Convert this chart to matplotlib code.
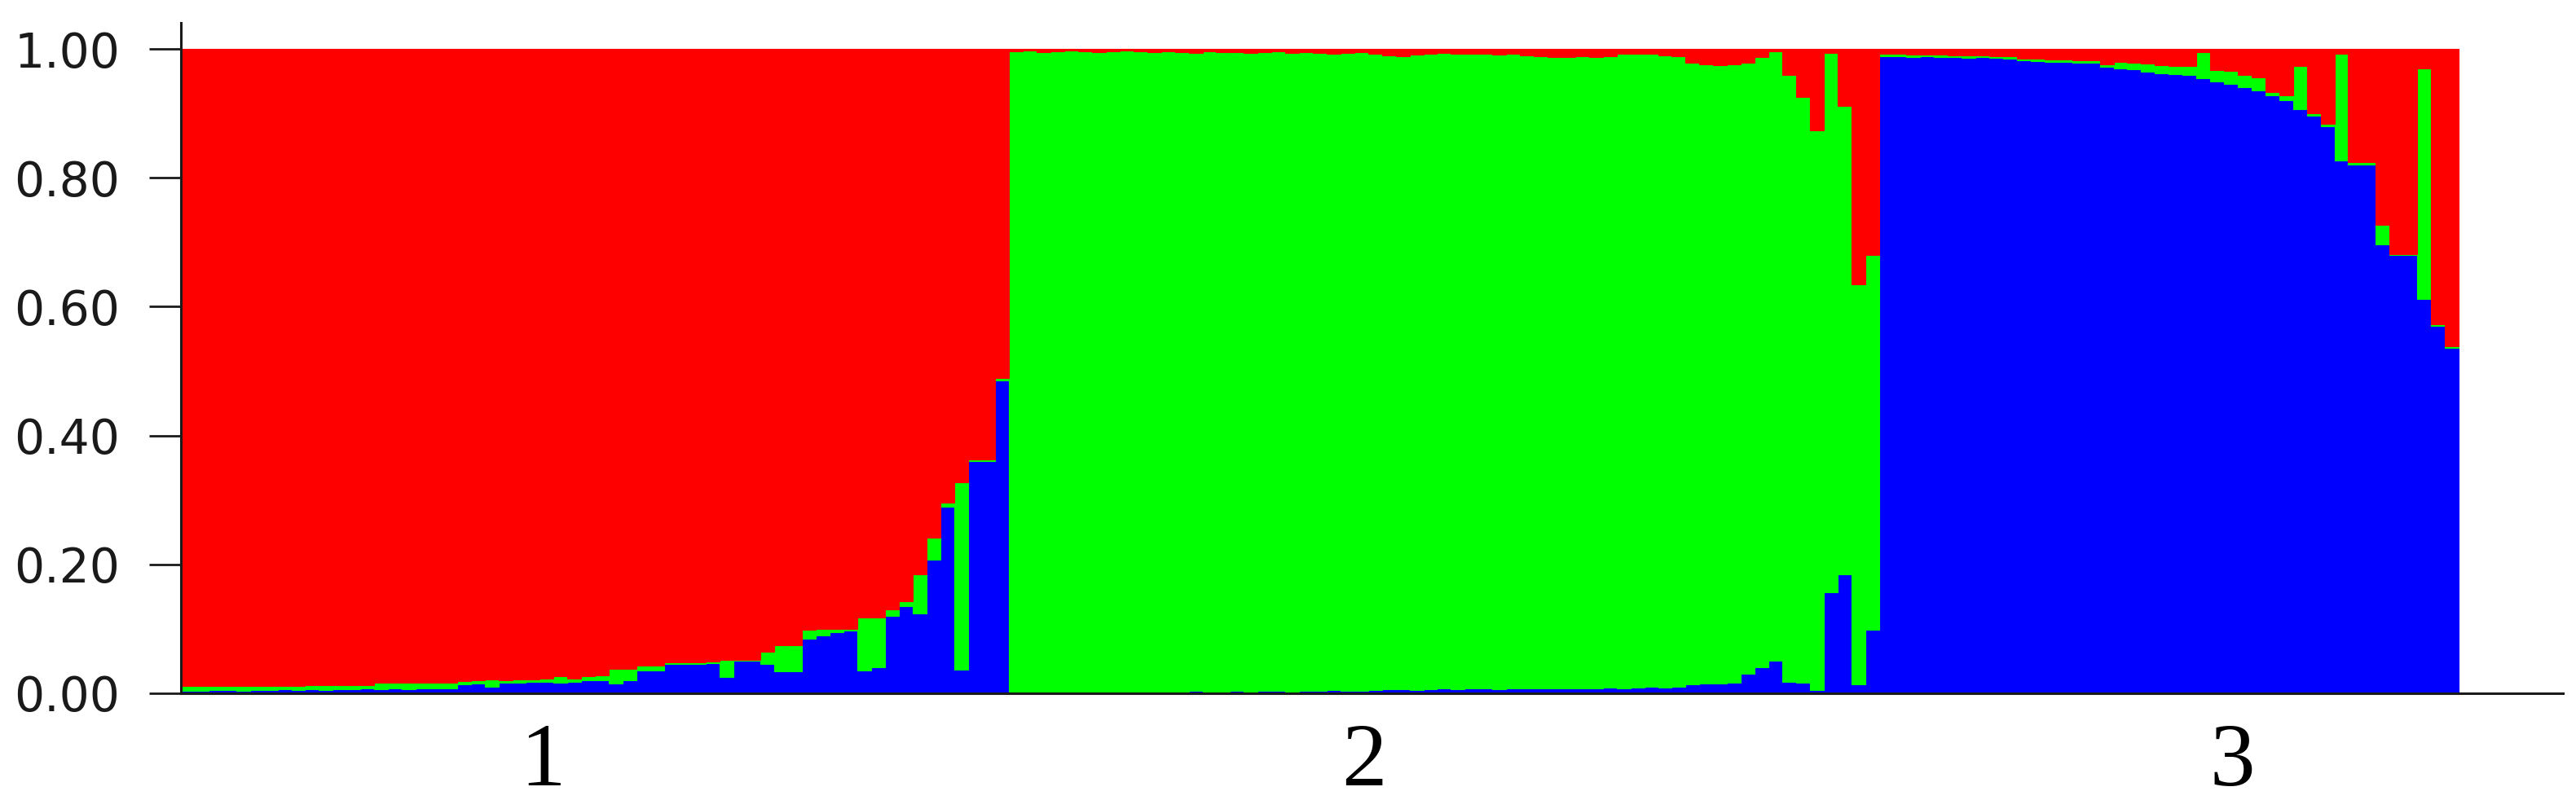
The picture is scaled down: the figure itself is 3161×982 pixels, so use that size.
import numpy as np
import matplotlib
matplotlib.use("Agg")
import matplotlib.pyplot as plt

# --- membership coefficients (Q) per individual ---
# group 1: red dominant, blue + green read, red = rest
g1_blue = [0.004, 0.004, 0.005, 0.005, 0.004, 0.005, 0.005, 0.006, 0.005, 0.006,
           0.005, 0.006, 0.006, 0.007, 0.006, 0.007, 0.006, 0.007, 0.008, 0.008,
           0.014, 0.015, 0.010, 0.016, 0.017, 0.018, 0.018, 0.016, 0.018, 0.020,
           0.020, 0.015, 0.020, 0.035, 0.035, 0.045, 0.045, 0.046, 0.047, 0.025,
           0.050, 0.050, 0.045, 0.034, 0.034, 0.085, 0.090, 0.095, 0.097, 0.035,
           0.040, 0.120, 0.135, 0.124, 0.207, 0.290, 0.037, 0.360, 0.360, 0.485]
g1_green = [0.008, 0.008, 0.007, 0.006, 0.008, 0.007, 0.007, 0.006, 0.007, 0.007,
            0.008, 0.007, 0.007, 0.006, 0.010, 0.010, 0.011, 0.010, 0.009, 0.008,
            0.005, 0.005, 0.012, 0.004, 0.004, 0.004, 0.005, 0.010, 0.005, 0.006,
            0.008, 0.023, 0.018, 0.008, 0.008, 0.003, 0.003, 0.002, 0.002, 0.027,
            0.002, 0.002, 0.020, 0.040, 0.040, 0.014, 0.010, 0.005, 0.003, 0.082,
            0.077, 0.010, 0.008, 0.060, 0.035, 0.006, 0.290, 0.003, 0.003, 0.004]

# group 2: green dominant, blue + red read, green = rest
g2_blue = [0.002, 0.003, 0.002, 0.003, 0.002, 0.003, 0.003, 0.002, 0.003, 0.003,
           0.002, 0.003, 0.003, 0.004, 0.003, 0.003, 0.004, 0.003, 0.004, 0.004,
           0.003, 0.004, 0.004, 0.005, 0.004, 0.004, 0.005,
           0.006, 0.006, 0.005, 0.006, 0.007, 0.006, 0.007, 0.007, 0.006, 0.007,
           0.008, 0.007, 0.008, 0.008, 0.007, 0.008, 0.009, 0.008, 0.009, 0.010,
           0.009, 0.010,
           0.014, 0.015, 0.015, 0.016, 0.030, 0.040, 0.050, 0.018, 0.016, 0.005,
           0.157, 0.185, 0.014, 0.098]
g2_red = [0.004, 0.003, 0.005, 0.004, 0.003, 0.004, 0.005, 0.004, 0.003, 0.004,
          0.005, 0.004, 0.005, 0.006, 0.004, 0.005, 0.005, 0.006, 0.005, 0.004,
          0.006, 0.005, 0.006, 0.007, 0.006, 0.005, 0.007, 0.010, 0.012, 0.009,
          0.008, 0.006, 0.007, 0.008, 0.007, 0.009, 0.008, 0.010, 0.011,
          0.013, 0.013, 0.012, 0.013, 0.012,
          0.008, 0.007, 0.008, 0.010, 0.012,
          0.022, 0.024, 0.025, 0.024, 0.022,
          0.013, 0.004, 0.040, 0.075, 0.126, 0.006, 0.088, 0.365, 0.320]

# group 3: blue dominant, blue + green read, red = rest
g3_blue = [0.988, 0.988, 0.987, 0.988, 0.987, 0.987, 0.986, 0.987, 0.986, 0.985,
           0.982, 0.981, 0.980, 0.980, 0.979, 0.978,
           0.972, 0.970, 0.968, 0.964, 0.962, 0.961, 0.960,
           0.955, 0.950, 0.946, 0.941, 0.936, 0.928, 0.920, 0.906, 0.896, 0.880,
           0.827, 0.821, 0.821, 0.697, 0.680, 0.680, 0.612, 0.570, 0.536]
g3_green = [0.004, 0.005, 0.004, 0.003, 0.004, 0.003, 0.004, 0.003, 0.003, 0.004,
            0.003, 0.004, 0.003, 0.004, 0.003, 0.004,
            0.004, 0.010, 0.010, 0.013, 0.013, 0.012, 0.013,
            0.040, 0.017, 0.020, 0.018, 0.020, 0.005, 0.008, 0.067, 0.004, 0.004,
            0.166, 0.003, 0.003, 0.030, 0.002, 0.002, 0.358, 0.003, 0.003]

group_labels = ["1", "2", "3"]
label_pos = [26.2, 85.7, 148.6]   # where the group numbers sit along the x axis
y_ticks = [0.0, 0.2, 0.4, 0.6, 0.8, 1.0]

# --- assemble full Q matrix ---
b1, gr1 = np.array(g1_blue), np.array(g1_green)
r1 = 1 - b1 - gr1
b2, r2 = np.array(g2_blue), np.array(g2_red)
gr2 = 1 - b2 - r2
b3, gr3 = np.array(g3_blue), np.array(g3_green)
r3 = 1 - b3 - gr3

blue = np.concatenate([b1, b2, b3])
green = np.concatenate([gr1, gr2, gr3])
red = np.concatenate([r1, r2, r3])
x = np.arange(len(blue))

fig = plt.figure(figsize=(31.61, 9.82), dpi=100)
ax = fig.add_axes([222 / 3161, 131 / 982, (3145 - 222) / 3161, 823 / 982])

ax.bar(x, blue, width=1, align="edge", color="#0000FF", edgecolor="#0000FF", linewidth=0.8)
ax.bar(x, green, width=1, bottom=blue, align="edge", color="#00FF00", edgecolor="#00FF00", linewidth=0.8)
ax.bar(x, red, width=1, bottom=blue + green, align="edge", color="#FF0000", edgecolor="#FF0000", linewidth=0.8)

ax.set_xlim(0, (3145 - 222) / (2795 / len(blue)))
ax.set_ylim(0, 823 / 791)

for s in ["top", "right"]:
    ax.spines[s].set_visible(False)
ax.spines["left"].set_linewidth(2.2)
ax.spines["bottom"].set_linewidth(2.2)
ax.spines["left"].set_color("#1a1a1a")
ax.spines["bottom"].set_color("#1a1a1a")

ax.set_yticks(y_ticks)
ax.set_yticklabels([f"{t:.2f}" for t in y_ticks])
ax.tick_params(axis="y", length=28, width=2, pad=26, labelsize=42,
               colors="#1a1a1a", direction="out")
ax.set_xticks([])

for lab, pos in zip(group_labels, label_pos):
    ax.text(pos, -0.105, lab, transform=ax.get_xaxis_transform(),
            ha="center", va="center", fontsize=80, family="Liberation Serif",
            color="black")

fig.savefig("out.png", dpi=100)
